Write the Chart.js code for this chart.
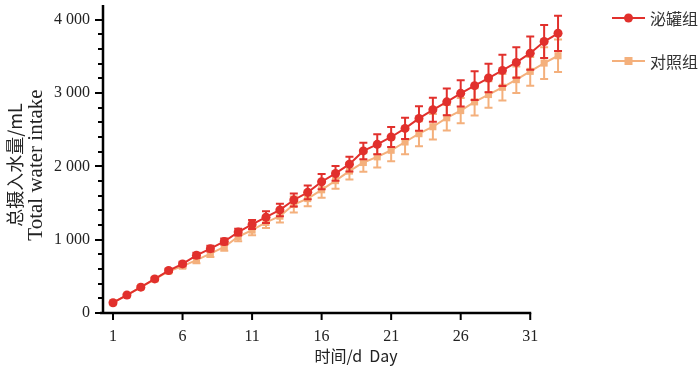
<!DOCTYPE html>
<html>
<head>
<meta charset="utf-8">
<script src="https://cdn.jsdelivr.net/npm/chart.js@4"></script>
<style>
  html, body { margin: 0; padding: 0; background: #fff; }
  #wrap { width: 700px; height: 368px; }
</style>
</head>
<body>
<div id="wrap"><canvas id="chart" width="700" height="368"></canvas></div>
<script>
// days 1..33
const days = [1,2,3,4,5,6,7,8,9,10,11,12,13,14,15,16,17,18,19,20,21,22,23,24,25,26,27,28,29,30,31,32,33];

const seriesNames = ['泌罐组', '对照组'];

// 泌罐组 mean / SD
const treatMean = [140,244,352,465,579,669,786,877,975,1103,1207,1306,1406,1541,1645,1790,1903,2030,2210,2300,2400,2517,2653,2771,2879,2995,3100,3204,3308,3417,3543,3702,3814];
const treatErr  = [10,15,15,20,20,30,35,40,40,45,60,80,85,90,95,104,100,100,113,136,136,145,167,163,181,180,195,195,212,208,226,226,240];

// 对照组 mean / SD
const ctrlMean = [140,244,352,460,570,640,720,810,900,1040,1130,1235,1320,1480,1560,1680,1805,1935,2052,2129,2219,2332,2445,2540,2662,2760,2879,2979,3078,3182,3295,3408,3508];
const ctrlErr  = [10,15,15,20,25,30,40,45,50,60,70,77,85,110,105,108,110,115,125,145,150,167,170,175,175,172,185,181,181,181,195,217,221];

const xTickValues = [1, 6, 11, 16, 21, 26, 31];
const yTickValues = [0, 1000, 2000, 3000, 4000];

const RED = '#e1302c';
const ORANGE = '#f4b07c';
const SERIF = '"Liberation Serif", "Noto Sans CJK SC", serif';
const CJK = '"Noto Sans CJK SC", "Liberation Serif", serif';

const errors = [treatErr, ctrlErr];

// draw the error bars just before each dataset's line
const errorBars = {
  id: 'errorBars',
  beforeDatasetDraw(chart, args) {
    const ds = chart.data.datasets[args.index];
    const err = errors[args.index];
    const xs = chart.scales.x, ys = chart.scales.y;
    const ctx = chart.ctx;
    ctx.save();
    ctx.strokeStyle = ds.borderColor;
    ctx.lineWidth = 2;
    ds.data.forEach((p, i) => {
      const px = xs.getPixelForValue(p.x);
      const top = ys.getPixelForValue(p.y + err[i]);
      const bot = ys.getPixelForValue(p.y - err[i]);
      ctx.beginPath();
      ctx.moveTo(px, top); ctx.lineTo(px, bot);
      ctx.moveTo(px - 4, top); ctx.lineTo(px + 4, top);
      ctx.moveTo(px - 4, bot); ctx.lineTo(px + 4, bot);
      ctx.stroke();
    });
    ctx.restore();
  }
};

// axis lines, tick marks, titles and legend
const axesDecor = {
  id: 'axesDecor',
  afterDraw(chart) {
    const ctx = chart.ctx;
    const xs = chart.scales.x, ys = chart.scales.y;
    const left = chart.chartArea.left, bottom = chart.chartArea.bottom, top = chart.chartArea.top;
    ctx.save();
    ctx.strokeStyle = '#000';
    ctx.lineWidth = 2.5;
    ctx.beginPath();
    ctx.moveTo(left, top);
    ctx.lineTo(left, bottom);
    ctx.moveTo(left - 3, bottom);
    ctx.lineTo(xs.getPixelForValue(31) + 1, bottom);
    ctx.stroke();

    ctx.lineWidth = 2;
    ctx.beginPath();
    for (let v = 0; v <= 4000; v += 200) {
      const py = Math.round(ys.getPixelForValue(v));
      const len = v % 1000 === 0 ? 8 : 5;
      ctx.moveTo(left - len, py);
      ctx.lineTo(left, py);
    }
    xTickValues.forEach(v => {
      const px = xs.getPixelForValue(v);
      ctx.moveTo(px, bottom);
      ctx.lineTo(px, bottom + 7);
    });
    ctx.stroke();

    // axis titles
    ctx.fillStyle = '#222';
    ctx.textBaseline = 'middle';
    ctx.textAlign = 'center';
    ctx.font = '16px ' + CJK;
    ctx.fillText('时间/d  Day', 356, 356);

    ctx.save();
    ctx.translate(15, 165);
    ctx.rotate(-Math.PI / 2);
    ctx.font = '18px ' + CJK;
    ctx.fillText('总摄入水量/mL', 0, 0);
    ctx.translate(0, 21);
    ctx.font = '21px ' + SERIF;
    ctx.fillText('Total water intake', 0, 0);
    ctx.restore();

    // legend
    const items = [
      { y: 18, color: RED, style: 'circle' },
      { y: 61, color: ORANGE, style: 'rect' }
    ];
    items.forEach((it, i) => {
      ctx.strokeStyle = it.color;
      ctx.fillStyle = it.color;
      ctx.lineWidth = 2;
      ctx.beginPath();
      ctx.moveTo(612, it.y);
      ctx.lineTo(645, it.y);
      ctx.stroke();
      if (it.style === 'circle') {
        ctx.beginPath();
        ctx.arc(628.5, it.y, 4.5, 0, Math.PI * 2);
        ctx.fill();
      } else {
        ctx.fillRect(624.5, it.y - 4, 8, 8);
      }
      ctx.fillStyle = '#333';
      ctx.textAlign = 'left';
      ctx.font = '16px ' + CJK;
      ctx.fillText(seriesNames[i], 650, it.y + 1);
    });
    ctx.restore();
  }
};

new Chart(document.getElementById('chart'), {
  type: 'line',
  data: {
    datasets: [
      {
        label: seriesNames[0],
        data: days.map((d, i) => ({ x: d, y: treatMean[i] })),
        borderColor: RED,
        backgroundColor: RED,
        borderWidth: 2,
        pointStyle: 'circle',
        pointRadius: 4.5,
        pointBorderWidth: 0,
        tension: 0,
        clip: false
      },
      {
        label: seriesNames[1],
        data: days.map((d, i) => ({ x: d, y: ctrlMean[i] })),
        borderColor: ORANGE,
        backgroundColor: ORANGE,
        borderWidth: 2,
        pointStyle: 'rect',
        pointRadius: 5,
        pointBorderWidth: 0,
        tension: 0,
        clip: false
      }
    ]
  },
  options: {
    responsive: false,
    animation: false,
    events: [],
    layout: { padding: { top: 3, right: 135, left: 0, bottom: 0 } },
    plugins: { legend: { display: false }, tooltip: { enabled: false } },
    scales: {
      x: {
        type: 'linear',
        min: 0.28,
        max: 33.5,
        afterFit(scale) {
          scale.height = 55;
          scale.paddingLeft = 0;
          scale.paddingRight = 0;
        },
        afterBuildTicks(axis) { axis.ticks = xTickValues.map(v => ({ value: v })); },
        grid: { display: false, drawTicks: false },
        border: { display: false },
        ticks: {
          padding: 14,
          color: '#222',
          font: { family: SERIF, size: 16 },
          maxRotation: 0,
          autoSkip: false
        }
      },
      y: {
        min: 0,
        max: 4200,
        afterFit(scale) {
          scale.width = 103;
          scale.paddingTop = 0;
          scale.paddingBottom = 0;
        },
        afterBuildTicks(axis) { axis.ticks = yTickValues.map(v => ({ value: v })); },
        grid: { display: false, drawTicks: false },
        border: { display: false },
        ticks: {
          padding: 13,
          color: '#222',
          font: { family: SERIF, size: 16 },
          callback: v => String(v).replace(/\B(?=(\d{3})+(?!\d))/g, ' ')
        }
      }
    }
  },
  plugins: [errorBars, axesDecor]
});
</script>
</body>
</html>
